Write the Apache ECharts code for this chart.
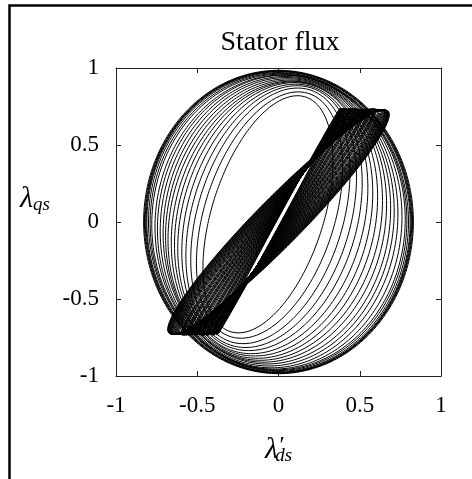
<!DOCTYPE html>
<html>
<head>
<meta charset="utf-8">
<script src="https://cdn.jsdelivr.net/npm/echarts@6/dist/echarts.min.js"></script>
<style>
  html, body { margin: 0; padding: 0; background: #fff; }
  #chart { width: 472px; height: 479px; }
</style>
</head>
<body>
<div id="chart"></div>
<script>
// axis ticks
var tickValues = [-1, -0.5, 0, 0.5, 1];

// loops of the flux locus: x = cx + a*cos(t), y = cy + b*cos(t - phi)
// narrow diagonal loops (the dark band)
var bandA   = [0.38,0.385,0.39,0.395,0.40,0.405,0.41,0.415,0.42,0.43,0.435,0.44,0.445,0.45,0.46,0.465,0.47,0.475,0.48,0.49,
               0.495,0.50,0.505,0.51,0.52,0.525,0.53,0.535,0.54,0.55,0.555,0.56,0.565,0.57,0.58,0.585,0.59,0.595,0.60,0.61,
               0.615,0.62,0.625,0.63,0.635,0.64,0.645,0.65,0.653,0.656,0.66,0.663,0.666,0.669,0.672,0.674,0.676,0.678,0.68,0.682];
var bandB   = [0.74,0.74,0.74,0.74,0.74,0.74,0.74,0.74,0.74,0.74,0.74,0.74,0.74,0.74,0.74,0.74,0.74,0.74,0.74,0.74,
               0.735,0.735,0.735,0.735,0.735,0.735,0.735,0.735,0.735,0.735,0.735,0.735,0.735,0.735,0.735,0.735,0.735,0.735,0.735,0.735,
               0.73,0.73,0.73,0.73,0.73,0.73,0.73,0.73,0.73,0.73,0.73,0.73,0.73,0.73,0.73,0.73,0.73,0.73,0.73,0.73];
var bandPhi = [2.2,2.45,2.7,2.95,3.2,3.45,3.7,3.95,4.2,4.45,4.7,4.95,5.2,5.45,5.7,5.95,6.2,6.45,6.7,6.95,
               7.2,7.45,7.7,7.95,8.2,8.45,8.7,8.95,9.2,9.45,9.7,9.95,10.2,10.45,10.7,10.95,11.2,11.45,11.7,11.95,
               12.2,12.45,12.7,12.95,13.2,13.45,13.7,13.95,14.2,14.45,14.7,14.95,15.2,15.45,15.7,15.95,16.2,16.45,16.7,17.0];

// opening loops (transition to the big ellipse)
var transA   = [0.40,0.45,0.49,0.525,0.555,0.585,0.61,0.635,0.66,0.68,0.70,0.72,0.74,0.76,0.78];
var transB   = [0.77,0.80,0.83,0.85,0.865,0.88,0.89,0.90,0.91,0.92,0.93,0.94,0.95,0.955,0.96];
var transPhi = [63,67,70,72.5,75,77,79,80.5,82,83.5,85,86,87,88,89];
var transCx  = [-0.065,-0.055,-0.05,-0.045,-0.04,-0.035,-0.03,-0.025,-0.02,-0.015,-0.01,-0.008,-0.005,0,0];
var transCy  = [0.05,0.045,0.04,0.035,0.03,0.025,0.02,0.015,0.012,0.01,0.008,0.005,0.003,0,0];

// steady state loops (outer ellipse)
var outerA   = [0.79,0.80,0.81,0.815,0.82,0.825,0.83];
var outerB   = [0.965,0.97,0.975,0.98,0.98,0.98,0.985];
var outerPhi = [89.5,90,90,90,90,90,90];

function loopPoints(a, b, phiDeg, cx, cy) {
  var pts = [];
  var phi = phiDeg * Math.PI / 180;
  var n = 240;
  for (var i = 0; i <= n; i++) {
    var t = 2 * Math.PI * i / n;
    pts.push([cx + a * Math.cos(t), cy + b * Math.cos(t - phi)]);
  }
  return pts;
}

var series = [];
function addLoop(pts) {
  series.push({
    type: 'line',
    data: pts,
    showSymbol: false,
    symbol: 'none',
    silent: true,
    lineStyle: { color: '#000', width: 1 },
    xAxisIndex: 0,
    yAxisIndex: 0
  });
}
bandA.forEach(function (a, i) { addLoop(loopPoints(a, bandB[i], bandPhi[i], 0, 0)); });
transA.forEach(function (a, i) { addLoop(loopPoints(a, transB[i], transPhi[i], transCx[i], transCy[i])); });
outerA.forEach(function (a, i) { addLoop(loopPoints(a, outerB[i], outerPhi[i], 0, 0)); });

var font = 'Liberation Serif';
var axisLine = { show: true, onZero: false, lineStyle: { color: '#222', width: 1 } };
var tick = { show: true, inside: true, length: 5, lineStyle: { color: '#222' } };

var myChart = echarts.init(document.getElementById('chart'));
var option = {
  animation: false,
  backgroundColor: '#fff',
  title: {
    text: 'Stator flux',
    left: 275,
    top: 24,
    textAlign: 'center',
    textStyle: { fontFamily: font, fontSize: 28, fontWeight: 'normal', color: '#000' }
  },
  grid: { left: 116, top: 68, width: 325, height: 308, containLabel: false },
  xAxis: [{
    type: 'value', min: -1, max: 1, interval: 0.5,
    position: 'bottom',
    axisLine: axisLine, axisTick: tick, splitLine: { show: false },
    axisLabel: {
      margin: 18, color: '#000', fontFamily: font, fontSize: 23,
      formatter: function (v) { return tickValues.indexOf(v) >= 0 ? String(v) : ''; }
    },
    name: '{l|λ}{p|′}{s|ds}',
    nameLocation: 'middle',
    nameGap: 58,
    nameTextStyle: {
      rich: {
        l: { fontFamily: font, fontStyle: 'italic', fontSize: 30, color: '#000' },
        p: { fontFamily: font, fontStyle: 'italic', fontSize: 24, color: '#000', padding: [0, 0, 8, 0] },
        s: { fontFamily: font, fontStyle: 'italic', fontSize: 19, color: '#000', padding: [12, 0, 0, -8] }
      }
    }
  }, {
    type: 'value', min: -1, max: 1, interval: 0.5,
    position: 'top',
    axisLine: axisLine, axisTick: tick, splitLine: { show: false },
    axisLabel: { show: false }
  }],
  yAxis: [{
    type: 'value', min: -1, max: 1, interval: 0.5,
    position: 'left',
    axisLine: axisLine, axisTick: tick, splitLine: { show: false },
    axisLabel: { margin: 17, color: '#000', fontFamily: font, fontSize: 23 },
    name: '{l|λ}{s|qs}',
    nameLocation: 'middle',
    nameRotate: 0,
    nameGap: 66,
    nameTextStyle: {
      align: 'right',
      padding: [0, 0, 46, 0],
      rich: {
        l: { fontFamily: font, fontStyle: 'italic', fontSize: 30, color: '#000' },
        s: { fontFamily: font, fontStyle: 'italic', fontSize: 19, color: '#000', padding: [12, 0, 0, 0] }
      }
    }
  }, {
    type: 'value', min: -1, max: 1, interval: 0.5,
    position: 'right',
    axisLine: axisLine, axisTick: tick, splitLine: { show: false },
    axisLabel: { show: false }
  }],
  graphic: [{
    type: 'rect',
    silent: true,
    shape: { x: 9.5, y: 5.5, width: 700, height: 700 },
    style: { fill: 'none', stroke: '#000', lineWidth: 2.5 }
  }],
  series: series
};
myChart.setOption(option, true);
</script>
</body>
</html>
